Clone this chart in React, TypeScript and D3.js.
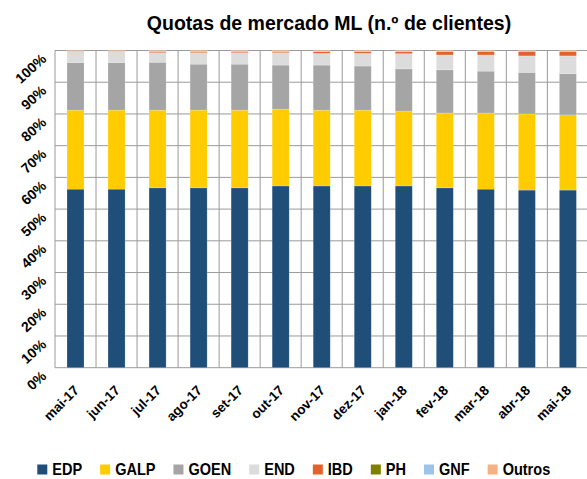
import React, { useEffect, useRef } from "react";
import * as d3 from "d3";

const months = [
  "mai-17", "jun-17", "jul-17", "ago-17", "set-17", "out-17", "nov-17",
  "dez-17", "jan-18", "fev-18", "mar-18", "abr-18", "mai-18",
];

const companies = ["EDP", "GALP", "GOEN", "END", "IBD", "PH", "GNF", "Outros"];
const colors = ["#1F4E79", "#FFCC00", "#A5A5A5", "#DCDCDC", "#E2622B", "#808000", "#9DC3E6", "#F4B183"];

// market share per month (%)
const edp = [56.3, 56.3, 56.7, 56.7, 56.7, 57.3, 57.3, 57.3, 57.3, 56.7, 56.3, 56.0, 56.0];
const galp = [24.9, 24.9, 24.5, 24.5, 24.5, 24.2, 23.9, 23.9, 23.6, 23.6, 24.0, 24.0, 23.7];
const goen = [15.0, 15.0, 15.1, 14.5, 14.5, 13.9, 14.2, 13.9, 13.3, 13.6, 13.2, 13.1, 13.0];
const end = [3.4, 3.4, 3.0, 3.6, 3.6, 3.9, 3.7, 4.0, 4.8, 4.7, 5.1, 5.2, 5.6];
const ibd = [0.0, 0.0, 0.3, 0.3, 0.3, 0.3, 0.5, 0.5, 0.6, 1.1, 1.1, 1.4, 1.4];
const ph = [0, 0, 0, 0, 0, 0, 0, 0, 0, 0, 0, 0, 0];
const gnf = [0, 0, 0, 0, 0, 0, 0, 0, 0, 0, 0, 0, 0];
const outros = [0.4, 0.4, 0.4, 0.4, 0.4, 0.4, 0.4, 0.4, 0.4, 0.3, 0.3, 0.3, 0.3];

const yTicks = [0, 10, 20, 30, 40, 50, 60, 70, 80, 90, 100];

const App = () => {
  const svgRef = useRef<SVGSVGElement>(null);

  useEffect(() => {
    const series = [edp, galp, goen, end, ibd, ph, gnf, outros];
    const rows = months.map((m, i) => {
      const r: any = { month: m };
      companies.forEach((c, j) => (r[c] = series[j][i]));
      return r;
    });

    const W = 587;
    const H = 479;
    const left = 55;
    const right = 588.4;
    const top = 50.5;
    const bottom = 367.7;

    const svg = d3.select(svgRef.current);
    svg.selectAll("*").remove();
    svg.attr("width", W).attr("height", H);

    const x = d3
      .scaleBand()
      .domain(months)
      .range([left, right])
      .paddingInner(0.585)
      .paddingOuter(0.2925);
    const y = d3.scaleLinear().domain([0, 100]).range([bottom, top]);

    const font = "'Liberation Sans', Arial, sans-serif";

    svg
      .append("text")
      .attr("x", 329)
      .attr("y", 30)
      .attr("text-anchor", "middle")
      .style("font-family", font)
      .style("font-weight", "bold")
      .style("font-size", "19.5px")
      .text("Quotas de mercado ML (n.º de clientes)");

    // grid
    const grid = svg.append("g").attr("stroke", "#9a9a9a").attr("stroke-width", 1);
    grid
      .selectAll("line.h")
      .data(yTicks)
      .join("line")
      .attr("x1", left)
      .attr("x2", right)
      .attr("y1", (d) => y(d))
      .attr("y2", (d) => y(d));
    grid
      .selectAll("line.v")
      .data(d3.range(months.length + 1))
      .join("line")
      .attr("x1", (i) => left + i * x.step())
      .attr("x2", (i) => left + i * x.step())
      .attr("y1", top)
      .attr("y2", bottom);

    const stacked = d3.stack().keys(companies)(rows);

    svg
      .append("g")
      .selectAll("g")
      .data(stacked)
      .join("g")
      .attr("fill", (d, i) => colors[i])
      .selectAll("rect")
      .data((d) => d.filter((p) => p[1] - p[0] > 0))
      .join("rect")
      .attr("x", (d: any) => x(d.data.month)!)
      .attr("width", x.bandwidth())
      .attr("y", (d) => y(d[1]))
      .attr("height", (d) => y(d[0]) - y(d[1]))
      .attr("stroke", "rgba(255,255,255,0.3)")
      .attr("stroke-width", 0.6);

    // y labels
    svg
      .append("g")
      .selectAll("text")
      .data(yTicks)
      .join("text")
      .attr("transform", (d) => `translate(44, ${y(d) + 6}) rotate(-42)`)
      .attr("text-anchor", "end")
      .attr("dominant-baseline", "central")
      .style("font-family", font)
      .style("font-weight", "bold")
      .style("font-size", "14px")
      .text((d) => d + "%");

    // x labels
    svg
      .append("g")
      .selectAll("text")
      .data(months)
      .join("text")
      .attr("transform", (d) => `translate(${x(d)! + x.bandwidth() / 2 + 1}, 388) rotate(-45)`)
      .attr("text-anchor", "end")
      .attr("dominant-baseline", "central")
      .style("font-family", font)
      .style("font-weight", "bold")
      .style("font-size", "13.5px")
      .text((d) => d);

    // legend
    const legend = svg.append("g");
    let lx = 37.3;
    companies.forEach((c, i) => {
      legend
        .append("rect")
        .attr("x", lx)
        .attr("y", 464.5)
        .attr("width", 10)
        .attr("height", 10)
        .attr("fill", colors[i]);
      const t = legend
        .append("text")
        .attr("transform", `translate(${lx + 15}, 474.5) scale(0.88, 1)`)
        .style("font-family", font)
        .style("font-weight", "bold")
        .style("font-size", "16.5px")
        .text(c);
      const len = (t.node() as SVGTextElement).getComputedTextLength() * 0.88;
      lx += 15 + len + 18;
    });
  }, []);

  return <svg ref={svgRef} style={{ position: "absolute", left: 0, top: 0 }}></svg>;
};

export default App;
